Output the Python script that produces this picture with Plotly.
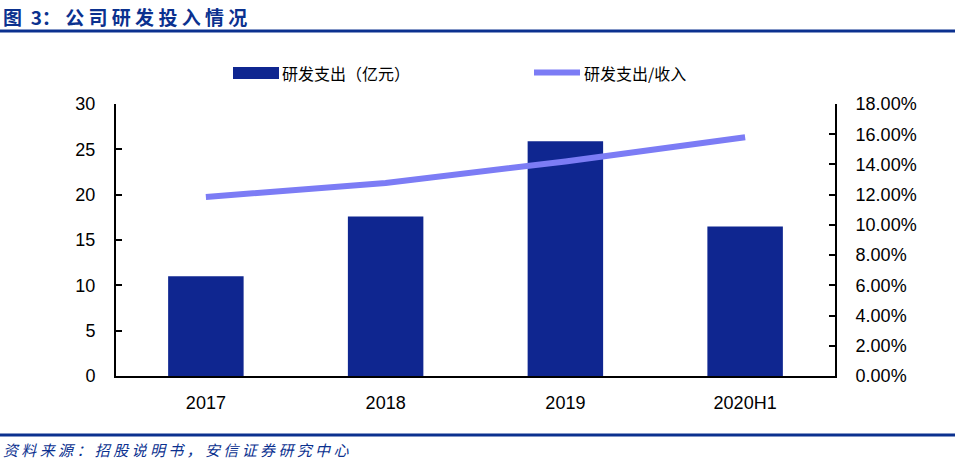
import plotly.graph_objects as go

categories = ["2017", "2018", "2019", "2020H1"]
rd_expense = [11.0, 17.6, 25.9, 16.5]          # 研发支出（亿元）
rd_ratio = [0.1185, 0.1277, 0.1420, 0.1580]    # 研发支出/收入
left_ticks = [0, 5, 10, 15, 20, 25, 30]
right_ticks = [0, 0.02, 0.04, 0.06, 0.08, 0.10, 0.12, 0.14, 0.16, 0.18]

W, H = 955, 465
L, R, T, B = 116, 120, 104, 89
PW, PH = W - L - R, H - T - B

def px(x):
    return (x - L) / PW

def py(y):
    return (H - B - y) / PH

BAR = "#0F2690"
LINE = "#7C7CF5"
NAVY = "#0B318F"
CJK = "Noto Sans CJK SC"
LAT = "Liberation Sans, Arial"

fig = go.Figure()
fig.add_trace(go.Bar(x=categories, y=rd_expense, name="研发支出（亿元）",
                     marker=dict(color=BAR, line=dict(width=0)), width=0.42,
                     yaxis="y"))
fig.add_trace(go.Scatter(x=categories, y=rd_ratio, name="研发支出/收入",
                         mode="lines", line=dict(color=LINE, width=6),
                         yaxis="y2"))

fig.update_layout(
    width=W, height=H,
    margin=dict(l=L, r=R, t=T, b=B, autoexpand=False),
    paper_bgcolor="white", plot_bgcolor="white",
    showlegend=False,
    xaxis=dict(showline=True, linecolor="black", linewidth=2, ticks="",
               tickfont=dict(family=LAT, size=18, color="black"),
               showgrid=False, zeroline=False, ticklabelstandoff=9),
    yaxis=dict(range=[0, 30], tickvals=left_ticks, showline=True,
               linecolor="black", linewidth=2, ticks="inside", ticklen=6,
               tickwidth=1.5, tickcolor="black",
               tickfont=dict(family=LAT, size=18, color="black"),
               showgrid=False, zeroline=False, ticklabelstandoff=15),
    yaxis2=dict(range=[0, 0.18], tickvals=right_ticks, tickformat=".2%",
                overlaying="y", side="right", showline=True,
                linecolor="black", linewidth=2, ticks="inside", ticklen=6,
                tickwidth=1.5, tickcolor="black",
                tickfont=dict(family=LAT, size=18, color="black"),
                showgrid=False, zeroline=False, ticklabelstandoff=15),
)

shapes = []
# top and bottom rules
shapes.append(dict(type="line", xref="paper", yref="paper",
                   x0=px(0), x1=px(W), y0=py(31), y1=py(31),
                   line=dict(color=NAVY, width=3)))
shapes.append(dict(type="line", xref="paper", yref="paper",
                   x0=px(0), x1=px(W), y0=py(435), y1=py(435),
                   line=dict(color=NAVY, width=3)))
# legend symbols
shapes.append(dict(type="rect", xref="paper", yref="paper",
                   x0=px(233), x1=px(279), y0=py(79), y1=py(67),
                   fillcolor=BAR, line=dict(width=0)))
shapes.append(dict(type="line", xref="paper", yref="paper",
                   x0=px(534), x1=px(580), y0=py(72.5), y1=py(72.5),
                   line=dict(color=LINE, width=6)))
fig.update_layout(shapes=shapes)

sp = "\u00a0"
title_txt = "图" + sp * 2 + "3：" + sp + sp.join("公司研发投入情况")
foot_txt = sp.join("资料来源：招股说明书，安信证券研究中心")

annotations = [
    dict(text="<b>" + title_txt + "</b>", xref="paper", yref="paper",
         x=px(1), y=py(16), xanchor="left", yanchor="middle", showarrow=False,
         font=dict(family=CJK, size=19, color=NAVY)),
    dict(text="<i>" + foot_txt + "</i>",
         xref="paper", yref="paper",
         x=px(1), y=py(449), xanchor="left", yanchor="middle", showarrow=False,
         font=dict(family=CJK, size=15, color=NAVY)),
    dict(text="研发支出（亿元）", xref="paper", yref="paper",
         x=px(280), y=py(72.5), xanchor="left", yanchor="middle", showarrow=False,
         font=dict(family=CJK, size=16, color="black")),
    dict(text="研发支出/收入", xref="paper", yref="paper",
         x=px(582), y=py(72.5), xanchor="left", yanchor="middle", showarrow=False,
         font=dict(family=CJK, size=16, color="black")),
]
fig.update_layout(annotations=annotations)

fig.write_html("out.html",
               config={"displayModeBar": False},
               post_script="document.body.style.margin='0';"
                           "document.documentElement.style.margin='0';")
